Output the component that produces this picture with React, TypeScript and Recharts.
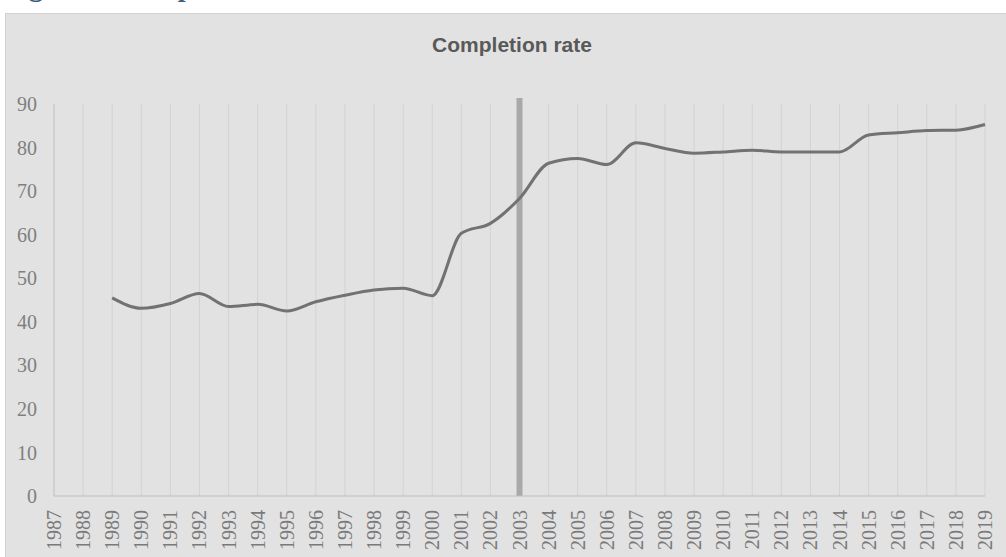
import React from 'react';
import { LineChart, Line, XAxis, YAxis, CartesianGrid, ReferenceLine } from 'recharts';

const years = ['1987','1988','1989','1990','1991','1992','1993','1994','1995','1996','1997','1998','1999','2000','2001','2002','2003','2004','2005','2006','2007','2008','2009','2010','2011','2012','2013','2014','2015','2016','2017','2018','2019'];
const completion: (number | null)[] = [null, null, 45.5, 43.1, 44.2, 46.5, 43.5, 44.0, 42.5, 44.6, 46.1, 47.3, 47.7, 46.0, 60.3, 62.6, 68.3, 76.4, 77.5, 76.1, 81.1, 79.8, 78.7, 79.0, 79.4, 79.0, 79.0, 79.0, 82.9, 83.4, 83.9, 84.0, 85.3];
const yTicks = [0, 10, 20, 30, 40, 50, 60, 70, 80, 90];
const markerYear = '2003';
const chartTitle = 'Completion rate';
const figureCaption = 'Figure 3: Completion rate';

const data = years.map((year, i) => ({ year, value: completion[i] }));

const XTick = (props: any) => {
  const { x, y, payload } = props;
  const ty = y + 14;
  return (
    <text
      x={x}
      y={ty}
      transform={`rotate(-90, ${x}, ${ty})`}
      textAnchor="end"
      dy="0.35em"
      fill="#7a7a7a"
      fontSize={20}
      fontFamily="'Liberation Serif', serif"
    >
      {payload.value}
    </text>
  );
};

export default function App() {
  return (
    <div style={{ position: 'relative', width: 1006, height: 557, overflow: 'hidden', background: '#ffffff' }}>
      <style>{`html,body{margin:0;padding:0;overflow:hidden;}`}</style>
      <div
        style={{
          position: 'absolute',
          left: 5,
          top: 13,
          width: 1001,
          height: 544,
          background: '#e2e2e2',
          borderTop: '1px solid #d2d2d2',
          borderLeft: '1px solid #d2d2d2',
          boxSizing: 'border-box',
        }}
      />
      <div style={{ position: 'absolute', left: 5, top: 13 }}>
        <LineChart
          width={1001}
          height={544}
          data={data}
          margin={{ top: 91, right: 21, left: 0, bottom: 0 }}
        >
          <CartesianGrid horizontal={false} stroke="#d3d3d3" />
          <XAxis
            dataKey="year"
            interval={0}
            tickLine={false}
            tickSize={0}
            tickMargin={0}
            axisLine={{ stroke: '#bdbdbd', strokeWidth: 1.2 }}
            height={61}
            tick={<XTick />}
          />
          <YAxis
            domain={[0, 90]}
            ticks={yTicks}
            width={49}
            tickLine={false}
            tickSize={0}
            tickMargin={17}
            axisLine={{ stroke: '#c6c6c6' }}
            tick={{ fill: '#7f7f7f', fontSize: 20, fontFamily: "'Liberation Serif', serif" }}
          />
          <ReferenceLine
            segment={[{ x: markerYear, y: 0 }, { x: markerYear, y: 91.4 }]}
            ifOverflow="visible"
            stroke="#a9a9a9"
            strokeWidth={6}
          />
          <Line
            type="monotone"
            dataKey="value"
            stroke="#727272"
            strokeWidth={3}
            dot={false}
            activeDot={false}
            isAnimationActive={false}
          />
        </LineChart>
      </div>
      <svg
        width={1006}
        height={557}
        style={{ position: 'absolute', left: 0, top: 0, pointerEvents: 'none' }}
      >
        <text
          x={4}
          y={-4}
          fontSize={28}
          fontWeight="bold"
          fill="#3e5f80"
          fontFamily="'Liberation Serif', serif"
        >
          {figureCaption}
        </text>
        <text
          x={512}
          y={52}
          textAnchor="middle"
          fontSize={21}
          fontWeight="bold"
          fill="#595959"
          fontFamily="'Liberation Sans', Arial, sans-serif"
        >
          {chartTitle}
        </text>
      </svg>
    </div>
  );
}
